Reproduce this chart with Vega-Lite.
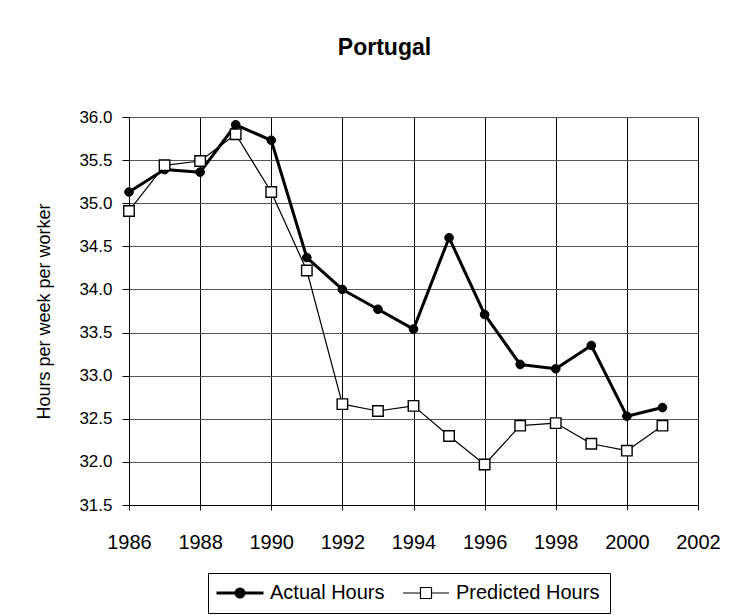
{
  "$schema": "https://vega.github.io/schema/vega-lite/v6.json",
  "autosize": "none",
  "width": 569,
  "height": 388,
  "padding": {"left": 129, "top": 117, "right": 32, "bottom": 110},
  "background": "white",
  "config": {
    "font": "Liberation Sans",
    "view": {"stroke": null},
    "axis": {"labelFont": "Liberation Sans", "titleFont": "Liberation Sans", "labelColor": "black", "titleColor": "black", "domainColor": "black", "tickColor": "black"}
  },
  "title": {
    "text": "Portugal",
    "fontSize": 23,
    "fontWeight": "bold",
    "font": "Liberation Sans",
    "color": "black",
    "anchor": "middle",
    "frame": "group",
    "dx": -29,
    "offset": 48
  },
  "data": {
    "values": [
      {"year": 1986, "series": "Actual Hours", "hours": 35.13},
      {"year": 1987, "series": "Actual Hours", "hours": 35.39},
      {"year": 1988, "series": "Actual Hours", "hours": 35.36},
      {"year": 1989, "series": "Actual Hours", "hours": 35.91},
      {"year": 1990, "series": "Actual Hours", "hours": 35.73},
      {"year": 1991, "series": "Actual Hours", "hours": 34.37},
      {"year": 1992, "series": "Actual Hours", "hours": 34.00},
      {"year": 1993, "series": "Actual Hours", "hours": 33.77},
      {"year": 1994, "series": "Actual Hours", "hours": 33.54},
      {"year": 1995, "series": "Actual Hours", "hours": 34.60},
      {"year": 1996, "series": "Actual Hours", "hours": 33.71},
      {"year": 1997, "series": "Actual Hours", "hours": 33.13},
      {"year": 1998, "series": "Actual Hours", "hours": 33.08},
      {"year": 1999, "series": "Actual Hours", "hours": 33.35},
      {"year": 2000, "series": "Actual Hours", "hours": 32.53},
      {"year": 2001, "series": "Actual Hours", "hours": 32.63},
      {"year": 1986, "series": "Predicted Hours", "hours": 34.91},
      {"year": 1987, "series": "Predicted Hours", "hours": 35.44},
      {"year": 1988, "series": "Predicted Hours", "hours": 35.49},
      {"year": 1989, "series": "Predicted Hours", "hours": 35.80},
      {"year": 1990, "series": "Predicted Hours", "hours": 35.13},
      {"year": 1991, "series": "Predicted Hours", "hours": 34.22},
      {"year": 1992, "series": "Predicted Hours", "hours": 32.67},
      {"year": 1993, "series": "Predicted Hours", "hours": 32.59},
      {"year": 1994, "series": "Predicted Hours", "hours": 32.65},
      {"year": 1995, "series": "Predicted Hours", "hours": 32.30},
      {"year": 1996, "series": "Predicted Hours", "hours": 31.97},
      {"year": 1997, "series": "Predicted Hours", "hours": 32.42},
      {"year": 1998, "series": "Predicted Hours", "hours": 32.45},
      {"year": 1999, "series": "Predicted Hours", "hours": 32.21},
      {"year": 2000, "series": "Predicted Hours", "hours": 32.13},
      {"year": 2001, "series": "Predicted Hours", "hours": 32.42}
    ]
  },
  "encoding": {
    "x": {
      "field": "year",
      "type": "quantitative",
      "scale": {"domain": [1986, 2002], "nice": false, "zero": false},
      "axis": {
        "title": null,
        "values": [1986, 1988, 1990, 1992, 1994, 1996, 1998, 2000, 2002],
        "format": "d",
        "labelFontSize": 20,
        "labelFlush": false,
        "tickSize": 5,
        "labelPadding": 22,
        "grid": true,
        "gridColor": "black",
        "gridOpacity": 1,
        "gridWidth": 1,
        "domainWidth": 1
      }
    },
    "y": {
      "field": "hours",
      "type": "quantitative",
      "scale": {"domain": [31.5, 36.0], "nice": false, "zero": false},
      "axis": {
        "title": "Hours per week per worker",
        "titleFontSize": 18,
        "titleFontWeight": "normal",
        "titleAngle": -90,
        "titleX": -80,
        "titleY": 194,
        "titleAlign": "center",
        "titleBaseline": "alphabetic",
        "values": [31.5, 32.0, 32.5, 33.0, 33.5, 34.0, 34.5, 35.0, 35.5, 36.0],
        "format": ".1f",
        "labelFontSize": 17,
        "labelFlush": false,
        "tickSize": 7,
        "labelPadding": 10,
        "grid": true,
        "gridColor": "#555555",
        "gridOpacity": 1,
        "gridWidth": 1,
        "domainWidth": 1
      }
    }
  },
  "layer": [
    {
      "transform": [{"filter": "datum.series === 'Actual Hours'"}],
      "mark": {"type": "line", "strokeWidth": 3, "strokeJoin": "round"},
      "encoding": {
        "color": {
          "field": "series",
          "type": "nominal",
          "scale": {"domain": ["Actual Hours", "Predicted Hours"], "range": ["black", "black"]},
          "legend": {
            "title": null,
            "orient": "none",
            "legendX": 79,
            "legendY": 456,
            "direction": "horizontal",
            "strokeColor": "black",
            "fillColor": "white",
            "padding": 10,
            "symbolSize": 100,
            "symbolOffset": 12,
            "labelOffset": 20,
            "columnPadding": 15,
            "labelFont": "Liberation Sans",
            "labelFontSize": 20,
            "labelColor": "black",
            "encode": {
              "symbols": {
                "update": {
                  "shape": {"signal": "datum.value === 'Actual Hours' ? 'M-4.7,0H4.7M-0.8,0A0.8,0.8 0 1,0 0.8,0A0.8,0.8 0 1,0 -0.8,0Z' : 'M-4.6,0H-1.1M1.1,0H4.6M-1.1,-1.1H1.1V1.1H-1.1Z'"},
                  "fill": {"signal": "datum.value === 'Actual Hours' ? 'black' : 'white'"},
                  "stroke": {"value": "black"},
                  "strokeWidth": {"signal": "datum.value === 'Actual Hours' ? 3 : 1.2"},
                  "size": {"value": 100},
                  "opacity": {"value": 1}
                }
              }
            }
          }
        }
      }
    },
    {
      "transform": [{"filter": "datum.series === 'Predicted Hours'"}],
      "mark": {"type": "line", "strokeWidth": 1.2, "strokeJoin": "round"},
      "encoding": {
        "color": {
          "field": "series",
          "type": "nominal",
          "scale": {"domain": ["Actual Hours", "Predicted Hours"], "range": ["black", "black"]},
          "legend": {
            "title": null,
            "orient": "none",
            "legendX": 79,
            "legendY": 456,
            "direction": "horizontal",
            "strokeColor": "black",
            "fillColor": "white",
            "padding": 10,
            "symbolSize": 100,
            "symbolOffset": 12,
            "labelOffset": 20,
            "columnPadding": 15,
            "labelFont": "Liberation Sans",
            "labelFontSize": 20,
            "labelColor": "black",
            "encode": {
              "symbols": {
                "update": {
                  "shape": {"signal": "datum.value === 'Actual Hours' ? 'M-4.7,0H4.7M-0.8,0A0.8,0.8 0 1,0 0.8,0A0.8,0.8 0 1,0 -0.8,0Z' : 'M-4.6,0H-1.1M1.1,0H4.6M-1.1,-1.1H1.1V1.1H-1.1Z'"},
                  "fill": {"signal": "datum.value === 'Actual Hours' ? 'black' : 'white'"},
                  "stroke": {"value": "black"},
                  "strokeWidth": {"signal": "datum.value === 'Actual Hours' ? 3 : 1.2"},
                  "size": {"value": 100},
                  "opacity": {"value": 1}
                }
              }
            }
          }
        }
      }
    },
    {
      "transform": [{"filter": "datum.series === 'Actual Hours'"}],
      "mark": {"type": "point", "shape": "circle", "filled": true, "fill": "black", "stroke": "black", "strokeWidth": 1, "size": 75, "opacity": 1}
    },
    {
      "transform": [{"filter": "datum.series === 'Predicted Hours'"}],
      "mark": {"type": "point", "shape": "square", "filled": true, "fill": "white", "stroke": "black", "strokeWidth": 1.4, "size": 110, "opacity": 1}
    }
  ]
}
